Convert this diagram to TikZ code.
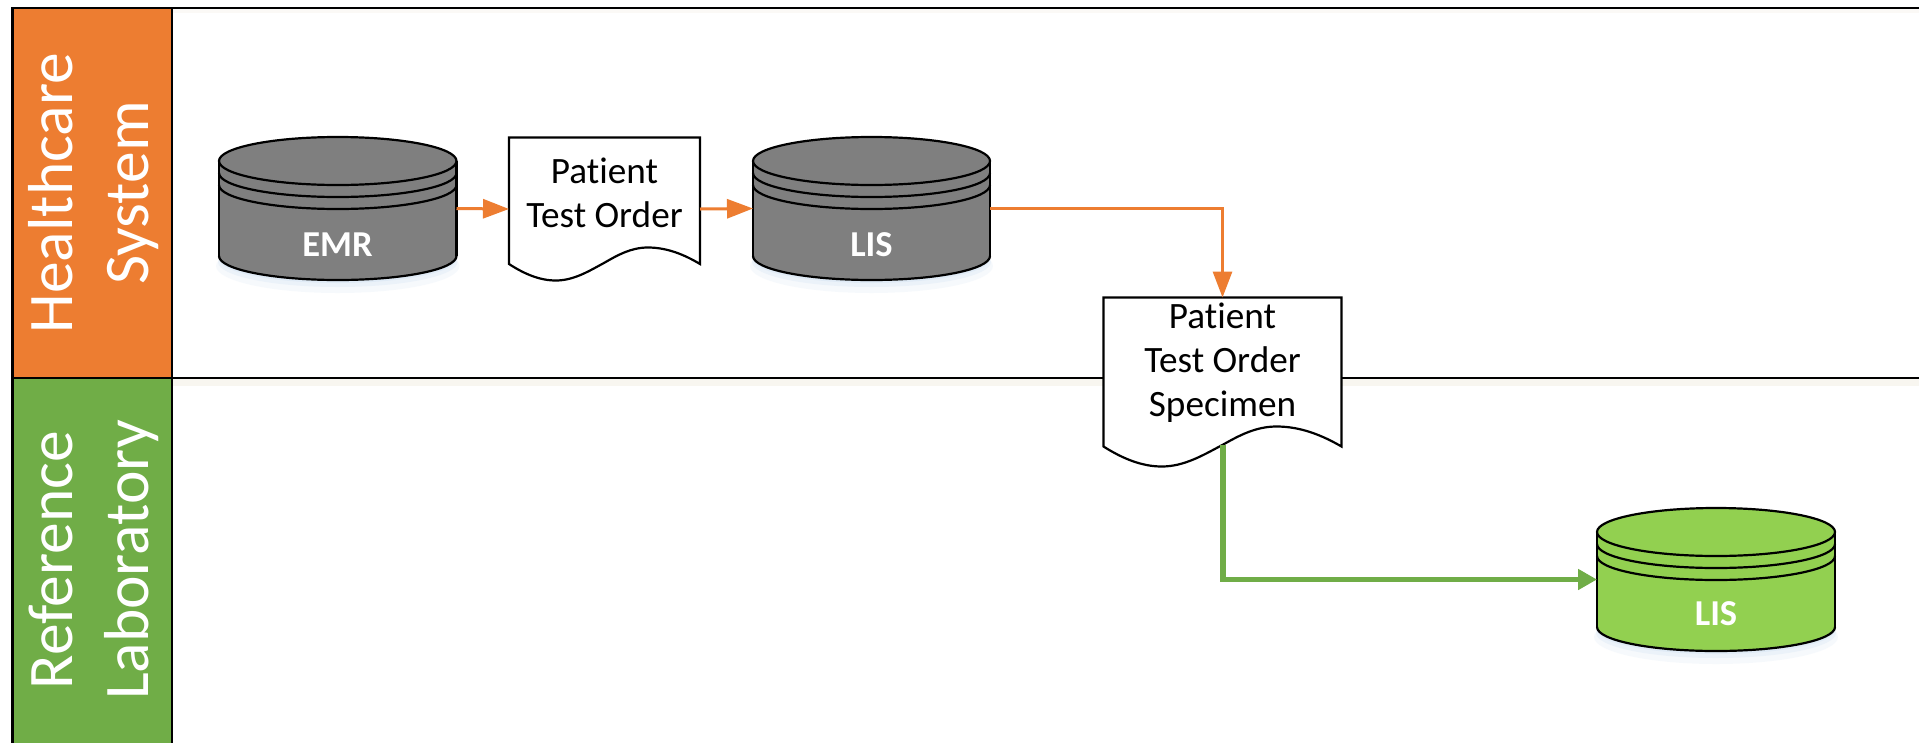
\documentclass[tikz,border=0pt]{standalone}
\usepackage{fontspec}
\setmainfont[Ligatures=NoCommon]{Carlito}
\usetikzlibrary{arrows.meta}
\definecolor{laneorange}{HTML}{ED7D31}
\definecolor{lanegreen}{HTML}{70AD47}
\definecolor{dbgray}{HTML}{7F7F7F}
\definecolor{dblime}{HTML}{92D050}
\definecolor{glow}{HTML}{BDD3EE}
\definecolor{lanefade}{HTML}{F3EEE2}
\tikzset{
  outline/.style={draw=black,line width=2.4pt},
  holder/.style={inner sep=0pt,outer sep=0pt,draw=none,rectangle},
  lanebox/.style={outline,inner sep=0pt,outer sep=0pt,rectangle},
  lanetext/.style={text=white,rotate=90,align=center,inner sep=0pt,
    font=\fontsize{63.5}{76}\selectfont},
  doctext/.style={align=center,inner sep=0pt,text=black,
    font=\fontsize{37.2}{44}\selectfont},
  dbtext/.style={text=white,inner sep=0pt,font=\fontsize{36.5}{42}\bfseries\selectfont},
  orangeflow/.style={draw=laneorange,line width=3pt,
    -{Triangle[length=26pt,width=19pt,fill=laneorange]}},
  greenflow/.style={draw=lanegreen,line width=5.5pt,
    -{Triangle[length=19pt,width=20pt,fill=lanegreen]}},
}
% lower half of an ellipse, stroked: left, right, centre y, y radius
\newcommand\lowarc[4]{%
  \pgfmathsetmacro\arcm{(#1+#2)/2}%
  \pgfmathsetmacro\arcr{(#2-#1)/2}%
  \draw[outline,line width=2.2pt] (#1,#3)
    .. controls (#1,{#3+.5523*#4}) and ({\arcm-.5523*\arcr},{#3+#4}) .. (\arcm,{#3+#4})
    .. controls ({\arcm+.5523*\arcr},{#3+#4}) and (#2,{#3+.5523*#4}) .. (#2,#3);}
% cylinder: left, right, top, bottom, fill colour, name
\newcommand\dbshape[6]{%
  \pgfmathsetmacro\shmx{(#1+#2)/2}%
  \pgfmathsetmacro\shmy{(#3+#4)/2}%
  \pgfmathsetmacro\shrx{(#2-#1)/2}%
  \pgfmathsetmacro\shct{#3+24}%
  \pgfmathsetmacro\shcb{#4-24}%
  \fill[glow,opacity=.12] (\shmx,\shcb+10) ellipse [x radius=\shrx pt+3pt,y radius=27pt];
  \fill[glow,opacity=.18] (\shmx,\shcb+6) ellipse [x radius=\shrx pt+1pt,y radius=25pt];
  \fill[glow,opacity=.22] (\shmx,\shcb+3) ellipse [x radius=\shrx pt,y radius=24pt];
  \fill[#5] (\shmx,\shcb) ellipse [x radius=\shrx pt,y radius=24pt];
  \fill[#5] (#1,\shct) rectangle (#2,\shcb);
  \lowarc{#1}{#2}{\shcb}{24}
  \draw[outline,line width=2.2pt] (#1,\shct) -- (#1,\shcb) (#2,\shct) -- (#2,\shcb);
  \lowarc{#1}{#2}{\shct+24}{24}
  \lowarc{#1}{#2}{\shct+12}{24}
  \draw[outline,line width=2.2pt,fill=#5] (\shmx,\shct) ellipse [x radius=\shrx pt,y radius=24pt];
  \node[holder,minimum width=#2 pt-#1 pt,minimum height=#4 pt-#3 pt] (#6) at (\shmx,\shmy) {};
}
% document: left, right, top, side bottom, amplitude, name
\newcommand\docshape[6]{%
  \pgfmathsetmacro\docw{#2-#1}%
  \pgfmathsetmacro\shmx{(#1+#2)/2}%
  \pgfmathsetmacro\shmy{(#3+#4+#5)/2}%
  \draw[outline,line width=2.2pt,fill=white,line join=miter] (#1,#3) -- (#2,#3) -- (#2,#4)
    .. controls ({#1+.92*\docw},{#4-.55*#5}) and ({#1+.83*\docw},{#4-#5}) .. ({#1+.727*\docw},{#4-#5})
    .. controls ({#1+.64*\docw},{#4-#5}) and ({#1+.57*\docw},{#4-.55*#5}) .. ({#1+.5*\docw},{#4-.08*#5})
    .. controls ({#1+.42*\docw},{#4+.42*#5}) and ({#1+.34*\docw},{#4+#5}) .. ({#1+.245*\docw},{#4+#5})
    .. controls ({#1+.16*\docw},{#4+#5}) and ({#1+.08*\docw},{#4+.6*#5}) .. (#1,#4) -- cycle;
  \node[holder,minimum width=\docw pt,minimum height=#4 pt+#5 pt-#3 pt] (#6) at (\shmx,\shmy) {};
}
\begin{document}
\begin{tikzpicture}[x=1pt,y=-1pt]
\useasboundingbox (0,0) rectangle (1919,742);
\fill[white] (0,0) rectangle (1919,742);
% soft fade under the lane rules
\fill[lanefade,opacity=.5] (172,378) rectangle (1919,386);
\fill[lanefade,opacity=.3] (172,8) rectangle (1919,13);
% lanes
\draw[outline] (172,8) -- (1919,8);
\draw[outline,line width=2pt] (172,377.5) -- (1919,377.5);
\node[lanebox,fill=laneorange,minimum width=159.5pt,minimum height=370pt] (hs) at (92.25,193) {};
\node[lanebox,fill=lanegreen,minimum width=159.5pt,minimum height=368pt] (rl) at (92.25,562) {};
\node[lanetext] (hst) at (94,193) {Healthcare\\System};
\node[lanetext] (rlt) at (94,560) {Reference\\Laboratory};
% shapes
\dbshape{219}{456.5}{137}{280}{dbgray}{emr}
\dbshape{753}{990}{137}{280}{dbgray}{lisa}
\dbshape{1597}{1835}{508}{651}{dblime}{lisb}
\docshape{509}{700}{137.5}{264}{16.5}{doca}
\docshape{1103.5}{1341.5}{297.5}{446.5}{20}{docb}
\coordinate (docbwave) at (1223,444.5);
% texts
\node[dbtext] (emrt) at (337.5,245) {EMR};
\node[dbtext] (lisat) at (871.5,245) {LIS};
\node[dbtext] (lisbt) at (1716,614) {LIS};
\node[doctext] (docat) at (604.5,193) {Patient\\Test Order};
\node[doctext] (docbt) at (1222.5,363) {Patient\\Test Order\\Specimen};
% connectors
\draw[orangeflow] (emr.east) -- (doca.west);
\draw[orangeflow] (doca.east) -- (lisa.west);
\draw[orangeflow] (lisa.east) -| (docb.north);
\draw[greenflow] (docbwave) |- (lisb.west);
\end{tikzpicture}
\end{document}
